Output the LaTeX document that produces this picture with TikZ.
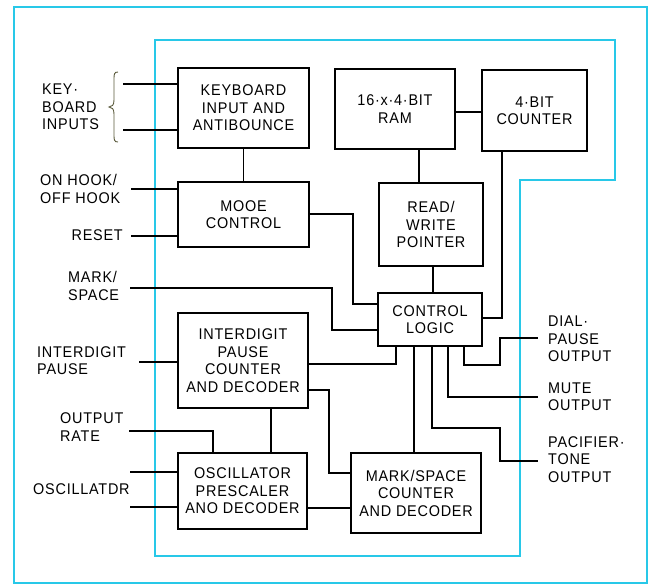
\documentclass[tikz,border=0pt]{standalone}
\usepackage{fontspec}
\setmainfont{Liberation Sans}[LetterSpace=5,FakeStretch=0.93]
\definecolor{frame}{RGB}{40,200,232}
\definecolor{brc}{RGB}{90,90,60}
\begin{document}
\begin{tikzpicture}[x=1pt,y=-1pt,
  font=\fontsize{15.5}{17.5}\selectfont,
  blk/.style={draw,line width=2.4pt,inner sep=0pt,outer sep=0pt,align=center},
  wire/.style={line width=1.1pt},
  lbl/.style={inner sep=0pt,align=left,anchor=west},
  frm/.style={draw=frame,line width=2pt}]
\useasboundingbox (0,0) rectangle (653,587);
% frames
\draw[frm] (14,7) rectangle (647,583);
\draw[frm] (155,40) -- (615,40) -- (615,180) -- (520,180) -- (520,556) -- (155,556) -- cycle;
% blocks
\node[blk,minimum width=131pt,minimum height=80pt] (kb) at (243.5,108) {KEYBOARD\\INPUT AND\\ANTIBOUNCE};
\node[blk,minimum width=131pt,minimum height=65pt] (md) at (243.5,214.5) {MOOE\\CONTROL};
\node[blk,minimum width=120pt,minimum height=80pt] (ram) at (395,109) {16·x·4·BIT\\RAM};
\node[blk,minimum width=105pt,minimum height=81pt] (cnt) at (534.5,110.5) {4·BIT\\COUNTER};
\node[blk,minimum width=104pt,minimum height=83pt] (rw) at (431,224.5) {READ/\\WRITE\\POINTER};
\node[blk,minimum width=104pt,minimum height=53pt] (cl) at (430,319.5) {CONTROL\\LOGIC};
\node[blk,minimum width=130pt,minimum height=95pt] (id) at (243,360.5) {INTERDIGIT\\PAUSE\\COUNTER\\AND DECODER};
\node[blk,minimum width=129pt,minimum height=76pt] (osc) at (242.5,491) {OSCILLATOR\\PRESCALER\\ANO DECODER};
\node[blk,minimum width=130pt,minimum height=80pt] (ms) at (416,493) {MARK/SPACE\\COUNTER\\AND DECODER};
% labels
\node[lbl] (lkb) at (42,107) {KEY·\\BOARD\\INPUTS};
\node[lbl] (lhook) at (40,189) {ON HOOK/\\OFF HOOK};
\node[lbl,anchor=east] (lrst) at (123,235) {RESET};
\node[lbl] (lms) at (68,286) {MARK/\\SPACE};
\node[lbl] (lip) at (37,360.5) {INTERDIGIT\\PAUSE};
\node[lbl] (lor) at (60,427) {OUTPUT\\RATE};
\node[lbl] (losc) at (33,489) {OSCILLATDR};
\node[lbl] (ldial) at (548,339) {DIAL·\\PAUSE\\OUTPUT};
\node[lbl] (lmute) at (548,396.5) {MUTE\\OUTPUT};
\node[lbl] (lpac) at (548,459.5) {PACIFIER·\\TONE\\OUTPUT};
% free ends
\coordinate (kin1) at (123,84);
\coordinate (kin2) at (123,130);
\coordinate (hook) at (131,189);
\coordinate (rst) at (131,236);
\coordinate (msin) at (130,288);
\coordinate (ipin) at (139,362);
\coordinate (orate) at (129,431);
\coordinate (osc1) at (130,472);
\coordinate (osc2) at (130,507);
\coordinate (dial) at (538,338);
\coordinate (mute) at (538,397);
\coordinate (pac) at (538,461);
% brace
\draw[brc,line width=0.9pt] (118,72) .. controls (114,72) and (114,74) .. (114,80) -- (114,100)
  .. controls (114,105) and (112,107) .. (109,107) .. controls (112,107) and (114,109) .. (114,114)
  -- (114,134) .. controls (114,140) and (114,142) .. (118,142);
% wires
\draw[wire] (kin1) -- (kb.west |- kin1);
\draw[wire] (kin2) -- (kb.west |- kin2);
\draw[wire] (kb.south) -- (md.north);
\draw[wire] (hook) -- (md.west |- hook);
\draw[wire] (rst) -- (md.west |- rst);
\draw[wire] (msin) -- (332,288) -- (332,330) -- (cl.west |- 0,330);
\draw[wire] (md.east |- 0,214) -- (353,214) -- (353,304) -- (cl.west |- 0,304);
\draw[wire] (ram.east |- 0,112) -- (cnt.west |- 0,112);
\draw[wire] (ram.south -| 419,0) -- (rw.north -| 419,0);
\draw[wire] (rw.south -| 433,0) -- (cl.north -| 433,0);
\draw[wire] (cnt.south -| 502,0) -- (502,318) -- (cl.east |- 0,318);
\draw[wire] (cl.south -| 396,0) -- (396,364) -- (id.east |- 0,364);
\draw[wire] (cl.south -| 414,0) -- (ms.north -| 414,0);
\draw[wire] (cl.south -| 432,0) -- (432,428) -- (500,428) -- (500,461) -- (pac);
\draw[wire] (cl.south -| 448,0) -- (448,397) -- (mute);
\draw[wire] (cl.south -| 464,0) -- (464,365) -- (500,365) -- (500,338) -- (dial);
\draw[wire] (id.east |- 0,390) -- (329,390) -- (329,473) -- (ms.west |- 0,473);
\draw[wire] (id.south -| 271,0) -- (osc.north -| 271,0);
\draw[wire] (ipin) -- (id.west |- ipin);
\draw[wire] (orate) -- (213,431) -- (osc.north -| 213,0);
\draw[wire] (osc1) -- (osc.west |- osc1);
\draw[wire] (osc2) -- (osc.west |- osc2);
\draw[wire] (osc.east |- 0,508) -- (ms.west |- 0,508);
\end{tikzpicture}
\end{document}
